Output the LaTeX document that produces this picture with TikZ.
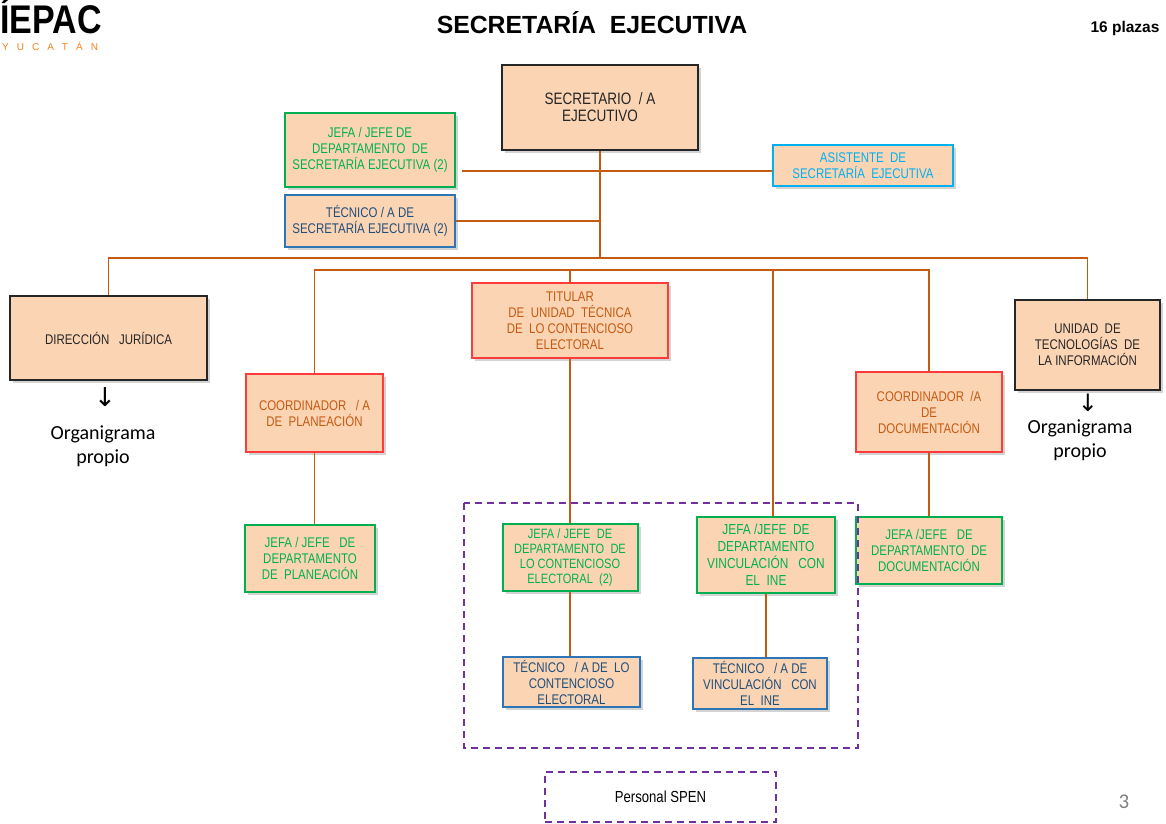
\documentclass[tikz,border=0pt]{standalone}
\usepackage{fontspec}
\setmainfont{Liberation Sans}
\newfontfamily\narrowfont[FakeStretch=0.82]{Liberation Sans}
\newfontfamily\logofont[FakeStretch=0.85]{Liberation Sans}
\newfontfamily\calibrifont{Carlito}
\newfontfamily\symbolfont{DejaVu Sans}
\usepackage{tikz}
\usetikzlibrary{arrows.meta,shadows}
\definecolor{peach}{HTML}{FBD4B4}
\definecolor{linebrown}{HTML}{C55A11}
\definecolor{boxgreen}{HTML}{00B050}
\definecolor{boxblue}{HTML}{2E75B6}
\definecolor{textblue}{HTML}{1F4E79}
\definecolor{boxcyan}{HTML}{00B0F0}
\definecolor{boxred}{HTML}{FF3B3B}
\definecolor{boxdark}{HTML}{262626}
\definecolor{spenpurple}{HTML}{7030A0}
\definecolor{logoorange}{HTML}{F5821F}
\tikzset{>={Stealth[length=3mm]}}
\tikzset{
  puesto/.style={rectangle,draw,fill=peach,align=center,inner sep=2pt,
    font=\narrowfont\fontsize{14}{16}\selectfont,
    drop shadow={shadow xshift=3pt,shadow yshift=-3pt,opacity=0.35}},
  mando/.style={puesto,draw=boxdark,line width=2.5pt,text=boxdark},
  jefatura/.style={puesto,draw=boxgreen,line width=2pt,text=boxgreen},
  tecnico/.style={puesto,draw=boxblue,line width=1.8pt,text=textblue},
  asistente/.style={puesto,draw=boxcyan,line width=1.8pt,text=boxcyan},
  coordina/.style={puesto,draw=boxred,line width=2pt,text=linebrown},
  linea/.style={draw=linebrown,line width=1.1pt},
  spen/.style={draw=spenpurple,line width=2.2pt,dash pattern=on 7pt off 5pt}
}
\begin{document}
\begin{tikzpicture}[x=1pt,y=-1pt]
	\useasboundingbox (0,0) rectangle (1166,823);
	\node (logo) at (0,33) [anchor=base west,inner sep=0,text depth=0pt,font=\logofont\bfseries\fontsize{40}{40}\selectfont] {ÍEPAC};
	\node (yucatan) at (2,50) [anchor=base west,inner sep=0,text height=7.5pt,text depth=0pt,text=logoorange,font=\fontsize{10}{10}\selectfont] {Y\hspace{8pt}U\hspace{8pt}C\hspace{8pt}A\hspace{8pt}T\hspace{8pt}Á\hspace{8pt}N};
	\node (titulo) at (592,23) [font=\bfseries\fontsize{24.8}{25}\selectfont] {SECRETARÍA\ \ EJECUTIVA};
	\node (plazas) at (1125,28) [font=\bfseries\fontsize{15.5}{16}\selectfont] {16 plazas};
	\node (sec) at (600,107.5) [mando,minimum width=196pt,minimum height=85pt,font=\narrowfont\fontsize{16.5}{17}\selectfont] {SECRETARIO\ \ / A\\EJECUTIVO};
	\node (jefase) at (370,150) [jefatura,minimum width=170pt,minimum height=74pt] {JEFA / JEFE DE\\DEPARTAMENTO\ \ DE\\SECRETARÍA EJECUTIVA (2)};
	\node (tecse) at (370,221) [tecnico,minimum width=170pt,minimum height=52pt] {TÉCNICO / A DE\\SECRETARÍA EJECUTIVA (2)};
	\node (asis) at (863,165.5) [asistente,minimum width=180pt,minimum height=41pt] {ASISTENTE\ \ DE\\SECRETARÍA\ \ EJECUTIVA};
	\node (dj) at (108.5,338) [mando,minimum width=197pt,minimum height=84pt] {DIRECCIÓN\ \ \ JURÍDICA};
	\node (titular) at (570,320.5) [coordina,minimum width=196pt,minimum height=75pt] {TITULAR\\DE\ \ UNIDAD\ \ TÉCNICA\\DE\ \ LO CONTENCIOSO\\ELECTORAL};
	\node (uti) at (1087.5,345) [mando,minimum width=145pt,minimum height=90pt] {UNIDAD\ \ DE\\TECNOLOGÍAS\ \ DE\\LA INFORMACIÓN};
	\node (cplan) at (314.5,413) [coordina,minimum width=137pt,minimum height=78pt] {COORDINADOR\ \ \ / A\\DE\ \ PLANEACIÓN};
	\node (cdoc) at (929,412) [coordina,minimum width=146pt,minimum height=80pt] {COORDINADOR\ \ /A\\DE\\DOCUMENTACIÓN};
	\node (jplan) at (310,558.5) [jefatura,minimum width=130pt,minimum height=67pt] {JEFA / JEFE\ \ \ DE\\DEPARTAMENTO\\DE\ \ PLANEACIÓN};
	\node (jcont) at (570,557.5) [jefatura,minimum width=135pt,minimum height=67pt,font=\narrowfont\fontsize{13.5}{15}\selectfont] {JEFA / JEFE\ \ DE\\DEPARTAMENTO\ \ DE\\LO CONTENCIOSO\\ELECTORAL\ \ (2)};
	\node (jvin) at (766,555) [jefatura,minimum width=138pt,minimum height=76pt,font=\narrowfont\fontsize{14.5}{17}\selectfont] {JEFA /JEFE\ \ DE\\DEPARTAMENTO\\VINCULACIÓN\ \ \ CON\\EL\ \ INE};
	\node (jdoc) at (929,550.5) [jefatura,minimum width=146pt,minimum height=67pt] {JEFA /JEFE\ \ \ DE\\DEPARTAMENTO\ \ DE\\DOCUMENTACIÓN};
	\node (tcont) at (571.5,682) [tecnico,minimum width=137pt,minimum height=50pt] {TÉCNICO\ \ \ / A DE\ \ LO\\CONTENCIOSO\\ELECTORAL};
	\node (tvin) at (760,683.5) [tecnico,minimum width=134pt,minimum height=51pt] {TÉCNICO\ \ \ / A DE\\VINCULACIÓN\ \ \ CON\\EL\ \ INE};
	\node (flechadj) at (105,397) [inner sep=0,font=\symbolfont\fontsize{26}{26}\selectfont] {↓};
	\node (propiodj) at (103,446) [align=center,font=\calibrifont\fontsize{20}{24}\selectfont] {Organigrama\\propio};
	\node (flechauti) at (1088,403) [inner sep=0,font=\symbolfont\fontsize{24}{24}\selectfont] {↓};
	\node (propiouti) at (1080,440) [align=center,font=\calibrifont\fontsize{20}{24}\selectfont] {Organigrama\\propio};
	\draw[spen] (464,503) rectangle (858,748);
	\node (leyenda) at (660.5,797) [spen,minimum width=231pt,minimum height=50pt,font=\narrowfont\fontsize{16}{16}\selectfont] {Personal SPEN};
	\node (pagina) at (1124,802) [text=gray,font=\calibrifont\fontsize{21}{21}\selectfont] {3};
	\coordinate (bus) at (600,258);
	\coordinate (bus2) at (610,270);
	\coordinate (ramal) at (462,171);
	\draw[linea] (sec) -- (sec |- bus);
	\draw[linea] (ramal) -- (ramal -| asis.west);
	\draw[linea] (tecse.east) -- (tecse.east -| sec);
	\draw[linea] (dj.north) |- (bus) -| (uti.north);
	\draw[linea] (cplan.north) |- (bus2) -| (cdoc.north);
	\draw[linea,line width=2.5pt] ([xshift=-7pt]bus2) -- ([xshift=7pt]bus2);
	\draw[linea] (titular) -- (titular |- bus2);
	\draw[linea] ([xshift=7pt]jvin.north) -- ([xshift=7pt]jvin.north |- bus2);
	\draw[linea] (cplan) -- (cplan |- jplan.north);
	\draw[linea] (titular) -- (titular |- jcont.north);
	\draw[linea] (cdoc) -- (cdoc |- jdoc.north);
	\draw[linea] (jcont) -- (jcont |- tcont.north);
	\draw[linea] (jvin) -- (jvin |- tvin.north);
\end{tikzpicture}
\end{document}
